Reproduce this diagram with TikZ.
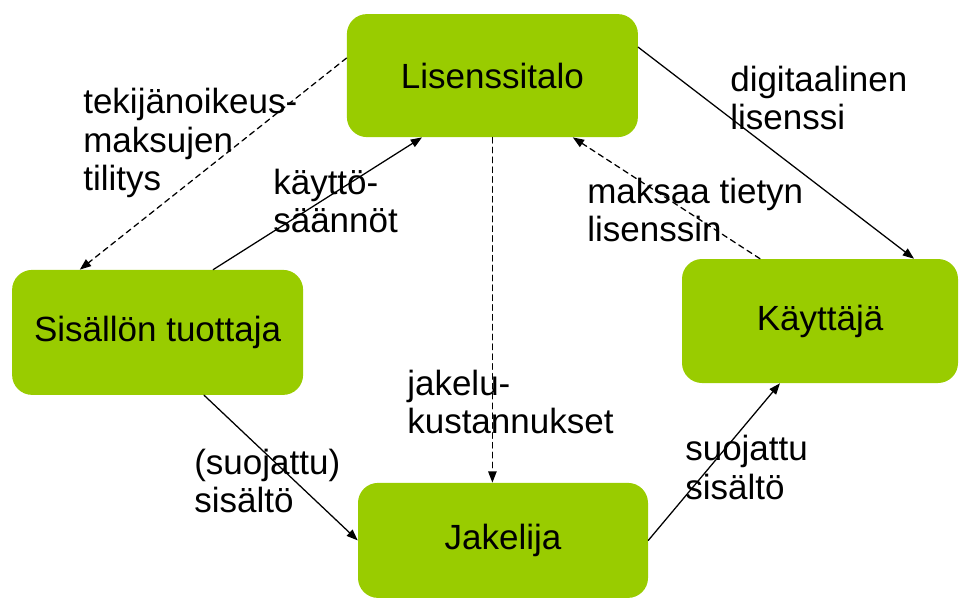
\documentclass[tikz,border=0pt]{standalone}
\usepackage{fontspec}
\setmainfont{Liberation Sans}
\usepackage{xcolor}
\usetikzlibrary{arrows.meta}
\definecolor{boxgreen}{HTML}{99CC00}

\begin{document}
\begin{tikzpicture}[line cap=round,line join=round,>={Triangle[length=8pt,width=6pt]},x=1cm,y=1cm,
        font=\fontsize{24.9}{27.7}\selectfont,
        party/.style={fill=boxgreen,rounded corners=0.5cm,minimum width=7.275cm,minimum height=3.075cm,inner sep=0pt},
        flowlabel/.style={anchor=west,align=left,inner sep=0pt},
        money/.style={->,line width=0.9pt,dash pattern=on 4pt off 3pt},
        goods/.style={->,line width=0.9pt}]
                \useasboundingbox (0,0) rectangle (24,15);
                \node[party] (talo) at (12.31,13.11) {Lisenssitalo};
                \node[party,minimum height=3.125cm] (tuottaja) at (3.94,6.69) {Sis\"all\"on tuottaja};
                \node[party,minimum width=6.9cm,minimum height=3.1cm] (kayttaja) at (20.5,6.975) {K\"aytt\"aj\"a};
                \node[party,minimum width=7.25cm,minimum height=2.875cm] (jakelija) at (12.575,1.49) {Jakelija};
                \draw [money] ([yshift=0.44cm]talo.west)-- ([xshift=1.7cm]tuottaja.north west);
                \draw [goods] ([xshift=1.39cm]tuottaja.north)-- ([xshift=-1.76cm]talo.south);
                \draw [goods] ([yshift=0.71cm]talo.east)-- ([xshift=2.35cm]kayttaja.north);
                \draw [money] ([xshift=-1.5cm]kayttaja.north)-- ([xshift=2.01cm]talo.south);
                \draw [money] (talo.south)-- (talo.south |- jakelija.north);
                \draw [goods] ([xshift=1.16cm]tuottaja.south)-- (jakelija.west);
                \draw [goods] (jakelija.east)-- ([xshift=-1cm]kayttaja.south);
                \node[flowlabel] (tilitys) at (2.075,11.425) {tekij\"anoikeus-\\maksujen\\tilitys};
                \node[flowlabel] (saannot) at (6.825,9.975) {k\"aytt\"o-\\s\"a\"ann\"ot};
                \node[flowlabel] (lisenssi) at (18.25,12.55) {digitaalinen\\lisenssi};
                \node[flowlabel] (maksu) at (14.675,9.75) {maksaa tietyn\\lisenssin};
                \node[flowlabel] (kulut) at (10.175,4.95) {jakelu-\\kustannukset};
                \node[flowlabel] (sisalto) at (4.85,2.975) {(suojattu)\\sis\"alt\"o};
                \node[flowlabel] (suojattu) at (17.125,3.31) {suojattu\\sis\"alt\"o};
\end{tikzpicture}
\end{document}
